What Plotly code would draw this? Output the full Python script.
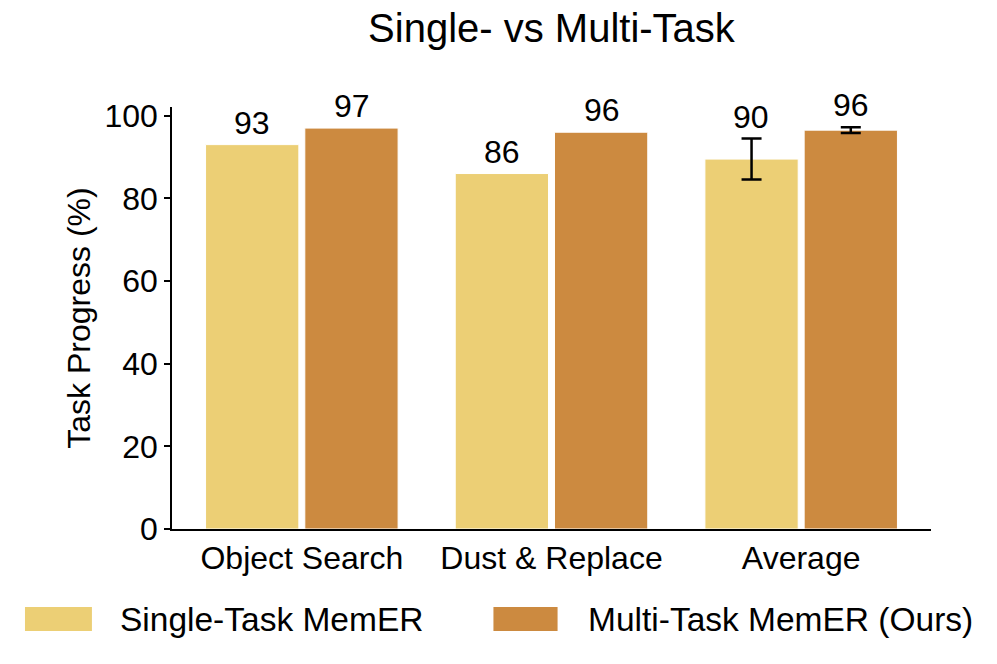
import plotly.graph_objects as go

categories = ["Object Search", "Dust & Replace", "Average"]
series_names = ["Single-Task MemER", "Multi-Task MemER (Ours)"]
single_vals = [93, 86, 89.5]
multi_vals = [97, 96, 96.5]
single_err = [None, None, 4.95]
multi_err = [None, None, 0.71]
colors = ["#ECCF75", "#CC8A40"]
y_ticks = [0, 20, 40, 60, 80, 100]

FONT = "Liberation Sans, Arial, Helvetica, sans-serif"

fig = go.Figure()
series = [(single_vals, single_err), (multi_vals, multi_err)]
for i, (vals, errs) in enumerate(series):
    fig.add_trace(go.Bar(
        x=categories, y=vals, name=series_names[i],
        marker=dict(color=colors[i], line=dict(color="white", width=1)),
        offsetgroup=str(i), showlegend=False,
    ))

# error bars (only where defined), aligned to bar groups
for i, (vals, errs) in enumerate(series):
    idx = [j for j, e in enumerate(errs) if e is not None]
    fig.add_trace(go.Scatter(
        x=[categories[j] for j in idx], y=[vals[j] for j in idx],
        mode="markers", marker=dict(size=1, opacity=0),
        error_y=dict(type="data", array=[errs[j] for j in idx], visible=True,
                     color="black", thickness=2.5, width=10),
        offsetgroup=str(i), showlegend=False, hoverinfo="skip",
    ))

# value labels (above bar or error bar)
for i, (vals, errs) in enumerate(series):
    for j, c in enumerate(categories):
        top = vals[j] + (errs[j] or 0)
        fig.add_annotation(
            x=c, y=top, xref="x", yref="y",
            text=f"{vals[j]:.0f}", showarrow=False,
            xshift=(-50 if i == 0 else 50), yshift=2,
            yanchor="bottom", font=dict(size=32, color="black", family=FONT),
        )

# custom legend
sw = [(-0.1937, -0.1055, -0.0713), (0.4235, 0.508, 0.545)]
for i, (x0, x1, tx) in enumerate(sw):
    fig.add_shape(type="rect", xref="paper", yref="paper",
                  x0=x0, x1=x1, y0=-0.242, y1=-0.185,
                  fillcolor=colors[i], line=dict(width=0))
    fig.add_annotation(x=tx, y=-0.2156, xref="paper", yref="paper",
                       text=series_names[i], showarrow=False,
                       xanchor="left", yanchor="middle",
                       font=dict(size=33.5, color="black", family=FONT))

fig.update_layout(
    width=997, height=664,
    margin=dict(l=172, r=66, t=107, b=135, autoexpand=False),
    paper_bgcolor="white", plot_bgcolor="white",
    font=dict(family=FONT, size=32, color="black"),
    title=dict(text="Single- vs Multi-Task", x=0.5, xref="paper",
               y=1 - 28 / 664, yanchor="middle",
               font=dict(size=40, color="black", family=FONT)),
    barmode="group", bargap=0.205, bargroupgap=0.06,
    scattermode="group", scattergap=0.205,
)
fig.update_xaxes(
    showgrid=False, showline=True, linecolor="black", linewidth=1.5,
    ticks="", range=[-0.52, 2.52], automargin=False,
    tickfont=dict(size=32, color="black", family=FONT),
)
fig.update_yaxes(
    showgrid=False, showline=True, linecolor="black", linewidth=1.5,
    ticks="outside", ticklen=6, tickwidth=1.5, tickcolor="black",
    range=[0, 102.1], tickvals=y_ticks, zeroline=False, automargin=False,
    tickfont=dict(size=32, color="black", family=FONT),
    title=dict(text="Task Progress (%)", standoff=4,
               font=dict(size=32, color="black", family=FONT)),
)

fig.write_html("out.html", config={"displayModeBar": False},
               post_script="document.body.style.margin='0';")
